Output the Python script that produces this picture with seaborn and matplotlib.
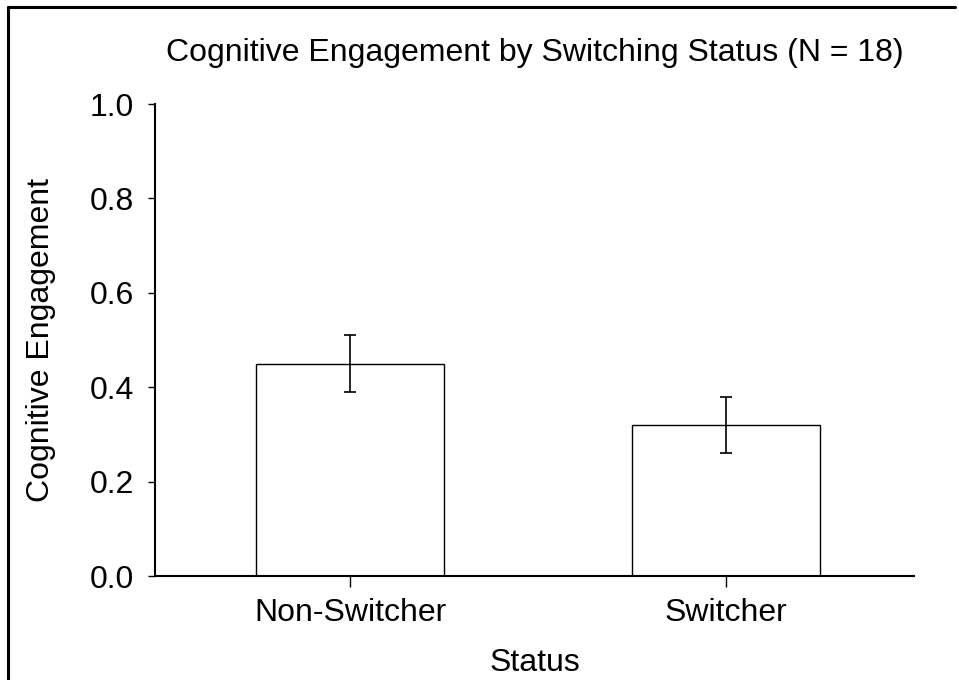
import matplotlib
matplotlib.use('Agg')
import matplotlib.pyplot as plt
import seaborn as sns
import pandas as pd
from matplotlib.lines import Line2D

status = ['Non-Switcher', 'Switcher']
engagement = [0.45, 0.32]
engagement_err = [0.06, 0.06]

sns.set_style('ticks')
plt.rcParams['font.family'] = ['Liberation Sans', 'DejaVu Sans']
plt.rcParams['text.color'] = 'black'
plt.rcParams['axes.labelcolor'] = 'black'
plt.rcParams['xtick.color'] = 'black'
plt.rcParams['ytick.color'] = 'black'

df = pd.DataFrame({'Status': status, 'Engagement': engagement})

fig = plt.figure(figsize=(9.59, 6.8), dpi=100)
ax = fig.add_axes([155 / 959, 1 - 576 / 680, (914 - 155) / 959, (576 - 104) / 680])

sns.barplot(data=df, x='Status', y='Engagement', ax=ax, color='white',
            edgecolor='black', linewidth=1.0, width=0.5, errorbar=None)
ax.errorbar(range(len(status)), engagement, yerr=engagement_err, fmt='none',
            ecolor='black', elinewidth=1.2, capsize=4.5, capthick=1.2)

ax.set_xlim(-0.52, 1.5)
ax.set_ylim(0, 1.0)
ax.set_yticks([0.0, 0.2, 0.4, 0.6, 0.8, 1.0])
ax.set_yticklabels(['0.0', '0.2', '0.4', '0.6', '0.8', '1.0'])

fs = 23
ax.set_title('Cognitive Engagement by Switching Status (N = 18)', fontsize=fs,
             pad=31, color='black')
ax.set_xlabel('Status', fontsize=fs, labelpad=14)
ax.set_ylabel('Cognitive Engagement', fontsize=fs, labelpad=24)
ax.tick_params(axis='both', labelsize=fs, direction='out', width=1.0, colors='black')
ax.tick_params(axis='y', length=5, pad=10)
ax.tick_params(axis='x', length=8, pad=8)

for side in ['top', 'right']:
    ax.spines[side].set_visible(False)
for side in ['left', 'bottom']:
    ax.spines[side].set_linewidth(1.5)
    ax.spines[side].set_color('black')

# partial frame around the figure (top and left edges)
fig.add_artist(Line2D([8 / 959, 955 / 959], [1 - 7 / 680, 1 - 7 / 680],
                      transform=fig.transFigure, color='black', linewidth=2.2))
fig.add_artist(Line2D([8 / 959, 8 / 959], [1 - 7 / 680, 0],
                      transform=fig.transFigure, color='black', linewidth=2.2))

fig.savefig('out.png', dpi=100, facecolor='white')
